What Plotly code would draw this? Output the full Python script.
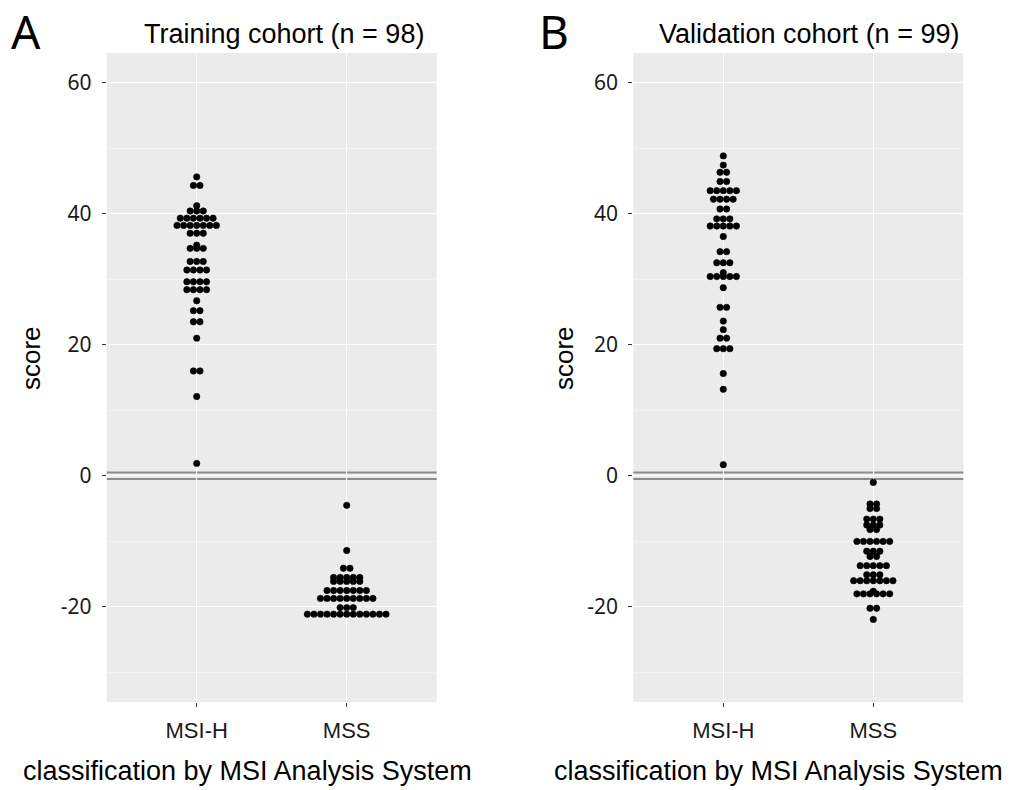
import plotly.graph_objects as go

# ---------------- data ----------------
categories = ["MSI-H", "MSS"]
panel_titles = ["Training cohort (n = 98)", "Validation cohort (n = 99)"]
panel_letters = ["A", "B"]
x_title = "classification by MSI Analysis System"
y_title = "score"

y_tick_vals = [-20, 0, 20, 40, 60]
y_tick_text = ["-20", "0", "20", "40", "60"]
y_minor_vals = [-30, -10, 10, 30, 50]
threshold_lines = [0.5, -0.5]

train_msih = [45.6, 44.3, 44.3, 41.2, 40.4, 40.4, 40.4,
              39.3, 39.3, 39.3, 39.3, 39.3, 39.3,
              38.2, 38.2, 38.2, 38.2, 38.2, 38.2, 38.2,
              37.0, 37.0, 37.0, 35.2, 34.7, 34.7, 34.7,
              32.7, 32.7, 32.7, 31.4, 31.4, 31.4, 31.4,
              29.6, 29.6, 29.6, 29.6, 28.4, 28.4, 28.4, 28.4,
              26.7, 25.2, 25.2, 23.5, 23.5, 21.0, 16.0, 16.0, 12.1, 1.9]
train_mss = [-4.5, -11.4, -14.1, -14.1,
             -15.5, -15.5, -15.5, -15.5, -15.5,
             -16.1, -16.1, -16.1, -16.1, -16.1,
             -17.5, -17.5, -17.5, -17.5, -17.5, -17.5, -17.5,
             -18.7, -18.7, -18.7, -18.7, -18.7, -18.7, -18.7, -18.7, -18.7,
             -20.1, -20.1, -20.1,
             -21.1, -21.1, -21.1, -21.1, -21.1, -21.1, -21.1, -21.1, -21.1,
             -21.1, -21.1, -21.1, -21.1]
valid_msih = [48.8, 47.4, 46.3, 46.3, 44.9, 44.9,
              43.5, 43.5, 43.5, 43.5, 43.5, 42.2, 42.2, 42.2, 42.2,
              40.7, 40.7, 39.2, 39.2, 39.2, 38.1, 38.1, 38.1, 38.1, 38.1,
              36.5, 34.2, 34.2, 32.5, 32.5, 32.5, 31.0,
              30.4, 30.4, 30.4, 30.4, 30.4, 28.7, 25.7, 25.7, 23.6, 22.3,
              21.0, 21.0, 19.4, 19.4, 19.4, 15.6, 13.2, 1.7]
valid_mss = [-1.0, -4.3, -4.3, -5.0, -5.0, -6.6, -6.6, -6.6,
             -7.5, -7.5, -7.5, -8.2, -8.2,
             -10.0, -10.0, -10.0, -10.0, -10.0, -10.0,
             -11.5, -11.5, -11.5, -12.3, -12.3,
             -13.7, -13.7, -13.7, -13.7, -13.7, -15.1, -15.1, -15.1,
             -16.0, -16.0, -16.0, -16.0, -16.0, -16.0, -16.0,
             -17.6, -18.0, -18.0, -18.0, -18.0, -18.0, -18.0,
             -20.2, -20.2, -21.9]

panels = [[train_msih, train_mss], [valid_msih, valid_mss]]

# ---------------- layout geometry ----------------
W, H = 1011, 790
def px(x):
    return x / W
def py(y):
    return 1 - y / H

x_range = [0.4, 2.6]
y_range = [-34.5, 64.5]
panel_x_px = [(106.7, 436.7), (633.3, 963.3)]
panel_y_px = (53, 702)
binwidth = 1.0          # dot diameter in score units
dot_size = 6.4

plot_h = panel_y_px[1] - panel_y_px[0]
plot_w = panel_x_px[0][1] - panel_x_px[0][0]
px_per_y = plot_h / (y_range[1] - y_range[0])
px_per_x = plot_w / (x_range[1] - x_range[0])
dx = binwidth * px_per_y / px_per_x


def dot_stack(values, center):
    """ggplot-like centered stacking of identical values."""
    order = []
    counts = {}
    for v in values:
        if v not in counts:
            counts[v] = 0
            order.append(v)
        counts[v] += 1
    xs, ys = [], []
    for v in order:
        n = counts[v]
        for j in range(n):
            xs.append(center + (j - (n - 1) / 2) * dx)
            ys.append(v)
    return xs, ys


fig = go.Figure()
for p, groups in enumerate(panels):
    xa = "x" if p == 0 else "x2"
    ya = "y" if p == 0 else "y2"
    for g, vals in enumerate(groups):
        xs, ys = dot_stack(vals, g + 1)
        fig.add_trace(go.Scatter(
            x=xs, y=ys, mode="markers", xaxis=xa, yaxis=ya,
            marker=dict(size=dot_size, color="black", line=dict(width=0.6, color="black")),
            showlegend=False, hoverinfo="y"))

axis_common_y = dict(
    range=y_range, tickvals=y_tick_vals, ticktext=y_tick_text,
    showgrid=True, gridcolor="white", gridwidth=1.1, zeroline=False,
    showline=False, ticks="outside", ticklen=4, tickcolor="#333333",
    tickfont=dict(family="Noto Sans", size=21, color="#1a1a1a"),
    ticklabelstandoff=6,
    minor=dict(tickvals=y_minor_vals, showgrid=True, gridcolor="#F3F3F3",
               gridwidth=0.5, ticks=""),
    domain=[py(panel_y_px[1]), py(panel_y_px[0])], automargin=False, fixedrange=True)
axis_common_x = dict(
    range=x_range, tickvals=[1, 2], ticktext=categories,
    showgrid=True, gridcolor="white", gridwidth=1.1, zeroline=False,
    showline=False, ticks="outside", ticklen=4, tickcolor="#333333",
    tickfont=dict(family="Liberation Sans", size=22, color="#1a1a1a"),
    ticklabelstandoff=5, automargin=False, fixedrange=True)

fig.update_layout(
    width=W, height=H, margin=dict(l=0, r=0, t=0, b=0),
    paper_bgcolor="white", plot_bgcolor="#EBEBEB",
    xaxis=dict(axis_common_x, domain=[px(panel_x_px[0][0]), px(panel_x_px[0][1])], anchor="y"),
    yaxis=dict(axis_common_y, anchor="x"),
    xaxis2=dict(axis_common_x, domain=[px(panel_x_px[1][0]), px(panel_x_px[1][1])], anchor="y2"),
    yaxis2=dict(axis_common_y, anchor="x2"),
)

shapes = []
for xr, yr in [("x domain", "y"), ("x2 domain", "y2")]:
    for t in threshold_lines:
        shapes.append(dict(type="line", xref=xr, yref=yr, x0=0, x1=1, y0=t, y1=t,
                           line=dict(color="#8c8c8c", width=2), layer="below"))
fig.update_layout(shapes=shapes)

ann = []
letter_x = [9, 537]
title_cx = [284, 809]
ytitle_cx = [31, 564]
xtitle_cx = [247, 778]
for p in range(2):
    ann.append(dict(text=panel_letters[p], x=px(letter_x[p]), y=py(31), xref="paper", yref="paper",
                    xanchor="left", yanchor="middle", showarrow=False,
                    font=dict(family="Noto Sans", size=46, color="black")))
    ann.append(dict(text=panel_titles[p], x=px(title_cx[p]), y=py(34), xref="paper", yref="paper",
                    xanchor="center", yanchor="middle", showarrow=False,
                    font=dict(family="Liberation Sans", size=27, color="black")))
    ann.append(dict(text=y_title, x=px(ytitle_cx[p]), y=py(358), xref="paper", yref="paper",
                    xanchor="center", yanchor="middle", showarrow=False, textangle=-90,
                    font=dict(family="Liberation Sans", size=26, color="black")))
    ann.append(dict(text=x_title, x=px(xtitle_cx[p]), y=py(771), xref="paper", yref="paper",
                    xanchor="center", yanchor="middle", showarrow=False,
                    font=dict(family="Liberation Sans", size=27, color="black")))
fig.update_layout(annotations=ann)

fig.write_html("out.html")
